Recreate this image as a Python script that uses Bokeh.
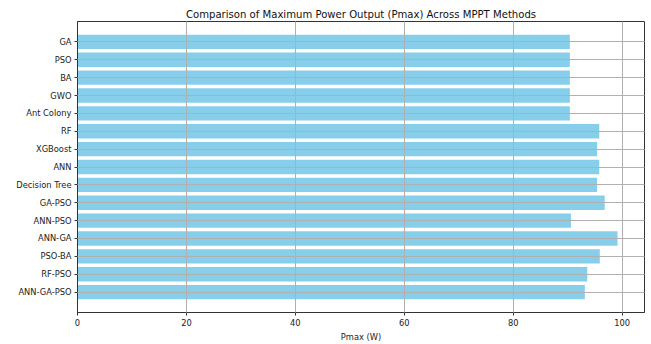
from bokeh.plotting import figure
from bokeh.models import Range1d, FixedTicker, ColumnDataSource
from bokeh.embed import file_html
from bokeh.resources import INLINE

methods = ["GA", "PSO", "BA", "GWO", "Ant Colony", "RF", "XGBoost", "ANN",
           "Decision Tree", "GA-PSO", "ANN-PSO", "ANN-GA", "PSO-BA", "RF-PSO", "ANN-GA-PSO"]
pmax = [90.4, 90.4, 90.4, 90.4, 90.4, 95.8, 95.4, 95.8,
        95.4, 96.8, 90.6, 99.15, 95.9, 93.6, 93.15]
x_ticks = [0, 20, 40, 60, 80, 100]

n = len(methods)
pos = list(range(n))
src = ColumnDataSource(dict(y=pos, right=pmax, name=methods))

p = figure(width=651, height=344, output_backend="svg", toolbar_location=None,
           x_range=Range1d(0, max(pmax) * 1.05),
           y_range=Range1d(n - 1 + 1.14, -1.14),
           min_border_left=77, min_border_right=7, min_border_top=21, min_border_bottom=32)

p.hbar(y="y", right="right", left=0, height=0.8, source=src,
       fill_color="#87CEEB", line_color=None)

p.title.text = "Comparison of Maximum Power Output (Pmax) Across MPPT Methods"
p.title.align = "center"
p.title.text_font = "DejaVu Sans"
p.title.text_font_size = "10.1px"
p.title.text_font_style = "normal"
p.title.text_color = "#111111"
p.title.offset = 0
p.title.standoff = 4

p.xaxis.ticker = FixedTicker(ticks=x_ticks)
p.yaxis.ticker = FixedTicker(ticks=pos)
p.yaxis.major_label_overrides = {i: m for i, m in enumerate(methods)}
p.xaxis.axis_label = "Pmax (W)"

for ax in (p.xaxis, p.yaxis):
    ax.major_label_text_font = "DejaVu Sans"
    ax.major_label_text_font_size = "8.3px"
    ax.major_label_text_color = "#222222"
    ax.axis_label_text_font = "DejaVu Sans"
    ax.axis_label_text_font_size = "8.3px"
    ax.axis_label_text_font_style = "normal"
    ax.axis_label_text_color = "#222222"
    ax.axis_line_color = "#333333"
    ax.major_tick_line_color = "#333333"
    ax.major_tick_out = 3
    ax.major_tick_in = 0
    ax.minor_tick_line_color = None
    ax.major_label_standoff = 3
p.xaxis.axis_label_standoff = 3

p.outline_line_color = "#333333"
p.outline_line_width = 1

for g in (p.xgrid, p.ygrid):
    g.grid_line_color = "#b0b0b0"
    g.grid_line_width = 1
    g.level = "overlay"
p.xgrid.ticker = FixedTicker(ticks=x_ticks)
p.ygrid.ticker = FixedTicker(ticks=pos)

open("out.html", "w").write(file_html(p, INLINE))
